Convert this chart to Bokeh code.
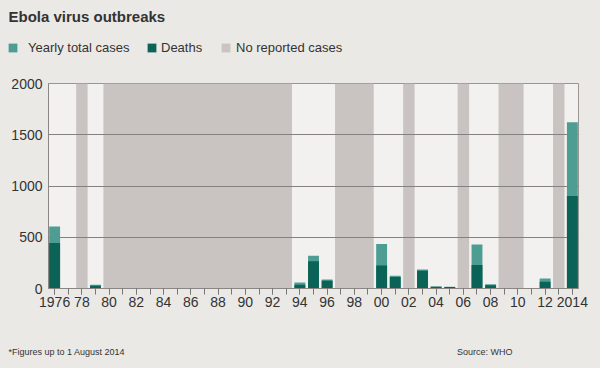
from bokeh.plotting import figure
from bokeh.layouts import column
from bokeh.models import Range1d, FixedTicker, Label, Legend, LegendItem
from bokeh.embed import file_html
from bokeh.resources import INLINE

# ---------------- data ----------------
title_text = "Ebola virus outbreaks"
case_years = [1976, 1979, 1994, 1995, 1996, 2000, 2001, 2003, 2004, 2005, 2007, 2008, 2012, 2014]
total_cases = [606, 36, 59, 319, 88, 433, 124, 185, 20, 18, 430, 42, 97, 1622]
deaths = [443, 28, 36, 267, 75, 225, 111, 172, 16, 14, 230, 32, 65, 903]
no_report_years = [1978] + list(range(1980, 1994)) + [1997, 1998, 1999, 2002, 2006, 2009, 2010, 2013]
tick_years = list(range(1976, 2015, 2))
tick_labels = ["1976", "78", "80", "82", "84", "86", "88", "90", "92", "94", "96", "98",
               "00", "02", "04", "06", "08", "10", "12", "2014"]
minor_years = list(range(1976, 2015))
y_ticks = [0, 500, 1000, 1500, 2000]
legend_labels = ["Yearly total cases", "Deaths", "No reported cases"]
footnote = "*Figures up to 1 August 2014"
source = "Source: WHO"

# ---------------- style ----------------
PAGE_BG = "#ebe9e6"
PLOT_BG = "#f2f1ef"
BAND = "#c9c4c1"
LIGHT = "#4e9d93"
DARK = "#0a6356"
GRID = "#85817e"
TEXT = "#333333"
FONT = "Liberation Sans"

W = 600
TOP_H, MAIN_H, BOT_H = 75, 240, 53
X0, X1 = 1975.55, 2014.45
Y0, Y1 = 0, 2000


def blank_fig(h):
    f = figure(width=W, height=h, output_backend="svg", toolbar_location=None,
               x_range=Range1d(0, W), y_range=Range1d(h, 0),
               x_axis_type=None, y_axis_type=None, min_border=0,
               outline_line_color=None, background_fill_color=PAGE_BG,
               border_fill_color=PAGE_BG, frame_align=False)
    f.grid.visible = False
    return f


# ---------------- header: title + legend ----------------
top = blank_fig(TOP_H)
top.add_layout(Label(x=8, y=16, text=title_text, text_font=FONT, text_font_size="15px",
                     text_font_style="bold", text_color=TEXT,
                     text_baseline="alphabetic", text_align="left"))
# legend keys: same series, drawn off this header's visible range
key_total = top.vbar(x=case_years, top=total_cases, width=1, fill_color=LIGHT, line_color=None)
key_death = top.vbar(x=case_years, top=deaths, width=1, fill_color=DARK, line_color=None)
key_band = top.vbar(x=no_report_years, top=[Y1] * len(no_report_years), width=1,
                    fill_color=BAND, line_color=None)
legend_pos = [7, 146, 220]
legend_standoff = [10, 4, 5]
for lab, rend, lx, so in zip(legend_labels, [key_total, key_death, key_band],
                             legend_pos, legend_standoff):
    leg = Legend(items=[LegendItem(label=lab, renderers=[rend])],
                 location=(lx, 20), orientation="horizontal",
                 glyph_width=11, glyph_height=11, label_standoff=so,
                 padding=0, margin=0, spacing=0,
                 border_line_color=None, background_fill_alpha=0,
                 label_height=11, label_text_font_size="13px",
                 label_text_font=FONT, label_text_color=TEXT)
    top.add_layout(leg)

# ---------------- main chart ----------------
p = figure(width=W, height=MAIN_H, output_backend="svg", toolbar_location=None,
           x_range=Range1d(X0, X1), y_range=Range1d(Y0, Y1),
           min_border_left=48, min_border_right=22,
           min_border_top=8, min_border_bottom=27,
           background_fill_color=PLOT_BG, border_fill_color=PAGE_BG,
           outline_line_color="#9a9592", outline_line_width=1, frame_align=False)

spans = []
for yr in no_report_years:
    if spans and yr == spans[-1][1] + 1:
        spans[-1][1] = yr
    else:
        spans.append([yr, yr])
p.quad(left=[s[0] - 0.42 for s in spans], right=[s[1] + 0.42 for s in spans],
       bottom=Y0, top=Y1, fill_color=BAND, line_color=None, level="image")

p.vbar(x=case_years, top=total_cases, width=0.8, fill_color=LIGHT, line_color=None)
p.vbar(x=case_years, top=deaths, width=0.8, fill_color=DARK, line_color=None)

p.xaxis.ticker = FixedTicker(ticks=tick_years, minor_ticks=minor_years)
p.xaxis.major_label_overrides = {t: lab for t, lab in zip(tick_years, tick_labels)}
p.xaxis.major_tick_in = 0
p.xaxis.major_tick_out = 6
p.xaxis.minor_tick_in = 0
p.xaxis.minor_tick_out = 6
p.xaxis.major_tick_line_color = "#777777"
p.xaxis.minor_tick_line_color = "#777777"
p.xaxis.axis_line_color = "#8a8684"
p.xaxis.major_label_standoff = 2
p.xaxis.major_label_text_font_size = "14px"
p.xaxis.major_label_text_font = FONT
p.xaxis.major_label_text_color = TEXT

p.yaxis.ticker = FixedTicker(ticks=y_ticks)
p.yaxis.major_tick_in = 0
p.yaxis.major_tick_out = 0
p.yaxis.minor_tick_line_color = None
p.yaxis.axis_line_color = "#8a8684"
p.yaxis.major_label_standoff = 6
p.yaxis.major_label_text_font_size = "14px"
p.yaxis.major_label_text_font = FONT
p.yaxis.major_label_text_color = TEXT

p.xgrid.visible = False
p.ygrid.ticker = FixedTicker(ticks=y_ticks)
p.ygrid.grid_line_color = GRID
p.ygrid.grid_line_width = 1

# ---------------- footer ----------------
bot = blank_fig(BOT_H)
bot.add_layout(Label(x=8, y=36, text=footnote, text_font=FONT, text_font_size="9px",
                     text_color=TEXT, text_baseline="alphabetic", text_align="left"))
bot.add_layout(Label(x=512, y=36, text=source, text_font=FONT, text_font_size="9px",
                     text_color=TEXT, text_baseline="alphabetic", text_align="right"))

layout = column(top, p, bot, spacing=0)

html = file_html(layout, INLINE)
html = html.replace("<body>", '<body style="background-color:%s;">' % PAGE_BG)
open("out.html", "w").write(html)
